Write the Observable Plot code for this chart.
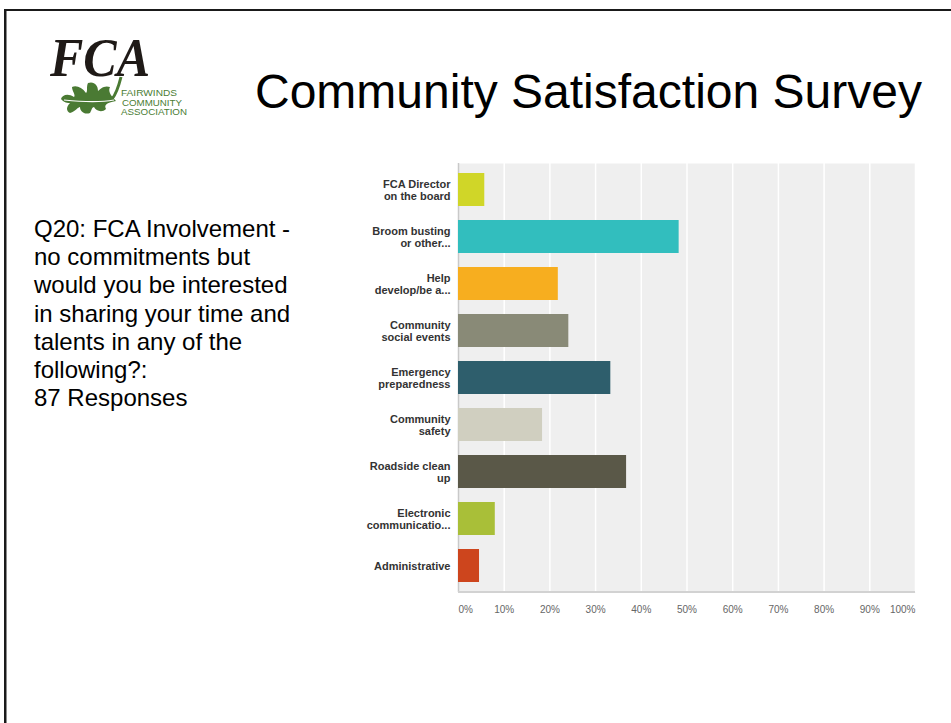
<!DOCTYPE html>
<html>
<head>
<meta charset="utf-8">
<script src="https://cdn.jsdelivr.net/npm/d3@7"></script>
<script src="https://cdn.jsdelivr.net/npm/@observablehq/plot@0.6"></script>
<style>
  html, body { margin: 0; padding: 0; background: #fff; }
  body { width: 951px; height: 723px; position: relative; overflow: hidden; font-family: "Liberation Sans", Arial, Helvetica, sans-serif; }
  #deco { position: absolute; left: 0; top: 0; }
  #chart { position: absolute; left: 340px; top: 150px; }
</style>
</head>
<body>
<svg id="deco" width="951" height="723" xmlns="http://www.w3.org/2000/svg">
  <rect x="4" y="9" width="947" height="2" fill="#1a1a1a"/>
  <rect x="4" y="9" width="2.5" height="714" fill="#1a1a1a"/>
  <!-- logo -->
  <path d="M112,99 C117,93 119,85 121,77" fill="none" stroke="#4a7a33" stroke-width="3"/>
  <path d="M116,101 C110,95 108,91 110,87 C104,85 100,89 98,91 C98,85 94,81 88,83 C86,87 88,91 86,93 C82,87 76,85 72,87 C72,91 76,95 74,97 C68,93 62,95 61,99 C64,103 68,103 70,103 C66,107 66,111 70,113 C76,111 78,107 80,107 C80,111 84,115 90,113 C92,109 92,107 94,107 C96,111 102,113 106,109 C104,105 106,103 116,101 Z" fill="#4a7a33"/>
  <path d="M64,100 C83,102 98,103 114,100" fill="none" stroke="#fff" stroke-width="1.2"/>
  <text x="50" y="76" font-family="Liberation Serif, Times New Roman, serif" font-style="italic" font-weight="bold" font-size="54" fill="#1f1a17" textLength="100" lengthAdjust="spacingAndGlyphs">FCA</text>
  <g font-family="Liberation Sans, Arial, sans-serif" font-size="8.4" fill="#4b7d35">
    <text x="121" y="96" textLength="56" lengthAdjust="spacingAndGlyphs">FAIRWINDS</text>
    <text x="122" y="105.5" textLength="60" lengthAdjust="spacingAndGlyphs">COMMUNITY</text>
    <text x="121" y="115" textLength="66" lengthAdjust="spacingAndGlyphs">ASSOCIATION</text>
  </g>
  <text x="255" y="108" font-family="Liberation Sans, Arial, Helvetica, sans-serif" font-size="48" fill="#000">Community Satisfaction Survey</text>
  <g id="question" font-family="Liberation Sans, Arial, Helvetica, sans-serif" font-size="24" fill="#000"></g>
</svg>
<div id="chart"></div>
<script>
// ---- data ----
const questionLines = [
  "Q20: FCA Involvement -",
  "no commitments but",
  "would you be interested",
  "in sharing your time and",
  "talents in any of the",
  "following?:",
  "87 Responses"
];
const categories = [
  "FCA Director\non the board",
  "Broom busting\nor other...",
  "Help\ndevelop/be a...",
  "Community\nsocial events",
  "Emergency\npreparedness",
  "Community\nsafety",
  "Roadside clean\nup",
  "Electronic\ncommunicatio...",
  "Administrative"
];
const values = [5.75, 48.28, 21.84, 24.14, 33.33, 18.39, 36.78, 8.05, 4.60];
const colors = ["#d0d628", "#32bebe", "#f7ae1f", "#898a77", "#2e5e6c", "#d0cfc0", "#5a5848", "#a9bf38", "#cd451d"];
const xTicks = [0, 10, 20, 30, 40, 50, 60, 70, 80, 90, 100];

// question text
const q = d3.select("#question");
questionLines.forEach((t, i) => {
  q.append("text").attr("x", 34).attr("y", 237 + i * 28.2).text(t);
});

const data = categories.map((c, i) => ({category: c, value: values[i]}));

const bottomLine = (index, scales, values, dims) => {
  const y = dims.height - dims.marginBottom;
  return d3.create("svg:line")
    .attr("x1", scales.x(0)).attr("x2", scales.x(100))
    .attr("y1", y).attr("y2", y)
    .attr("stroke", "#d2d2d2").attr("stroke-width", 2).node();
};

const chart = Plot.plot({
  width: 600,
  height: 480,
  marginLeft: 118,
  marginRight: 25,
  marginTop: 13,
  marginBottom: 38,
  style: {fontFamily: "Liberation Sans, Arial, Helvetica, sans-serif", background: "transparent", overflow: "visible"},
  x: {domain: [0, 100], axis: null},
  y: {domain: categories, paddingInner: 0.29, paddingOuter: 0.12, label: null},
  color: {domain: categories, range: colors},
  marks: [
    Plot.frame({fill: "#efefef", stroke: "none"}),
    Plot.gridX(xTicks.slice(1), {stroke: "#ffffff", strokeOpacity: 1, strokeWidth: 1.5}),
    Plot.ruleX([0], {stroke: "#c9c9c9", strokeWidth: 1.5}),
    bottomLine,
    Plot.barX(data, {x: "value", y: "category", fill: "category"}),
    Plot.axisY({tickSize: 0, tickPadding: 8, fontWeight: "bold", fontSize: 11, lineHeight: 1.1, fill: "#333", tickFormat: d => d, label: null}),
    Plot.text(xTicks.filter(d => d === 0), {x: d => d, frameAnchor: "bottom", dy: 20, text: d => d + "%", textAnchor: "start", fill: "#666", fontSize: 10}),
    Plot.text(xTicks.filter(d => d > 0 && d < 100), {x: d => d, frameAnchor: "bottom", dy: 20, text: d => d + "%", textAnchor: "middle", fill: "#666", fontSize: 10}),
    Plot.text(xTicks.filter(d => d === 100), {x: d => d, frameAnchor: "bottom", dy: 20, text: d => d + "%", textAnchor: "end", fill: "#666", fontSize: 10})
  ]
});
document.getElementById("chart").appendChild(chart);
</script>
</body>
</html>
